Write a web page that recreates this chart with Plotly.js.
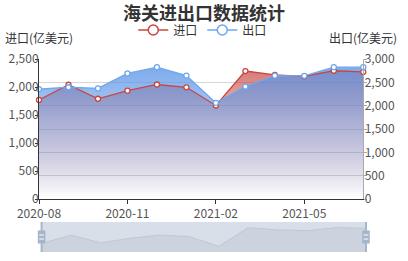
<!DOCTYPE html>
<html>
<head>
<meta charset="utf-8">
<script src="https://cdn.plot.ly/plotly-3.0.1.min.js"></script>
<style>html,body{margin:0;padding:0;background:#fff;}#chart{width:408px;height:261px;}</style>
</head>
<body>
<div id="chart"></div>
<script>
// ---- data ----
var months = ['2020-08','2020-09','2020-10','2020-11','2020-12','2021-01','2021-02','2021-03','2021-04','2021-05','2021-06','2021-07'];
var importVals = [1770, 2040, 1790, 1935, 2045, 1995, 1670, 2285, 2215, 2190, 2290, 2270];
var exportVals = [2355, 2395, 2370, 2690, 2825, 2645, 2060, 2410, 2645, 2640, 2825, 2825];
var xTickVals = ['2020-08','2020-11','2021-02','2021-05'];
var seriesNames = ['进口','出口'];
var titleText = '海关进出口数据统计';
var leftAxisName = '进口(亿美元)';
var rightAxisName = '出口(亿美元)';

// ---- styles ----
var FONT = '"Noto Sans CJK SC", "Noto Sans", sans-serif';
var RED = '#c9463f';
var BLUE = '#6fa6ee';
var HANDLE = 'rgb(165,181,203)';

var mn = Math.min.apply(null, importVals), mx = Math.max.apply(null, importVals);
var pad = (mx - mn) * 0.3;

function legendProxy(name, color, yaxis) {
  return { x: [months[0]], y: [null], xaxis: 'x', yaxis: yaxis, name: name, mode: 'lines+markers',
    line: { color: color, width: 1.3 },
    marker: { symbol: 'circle', size: 10, color: '#fff', line: { color: color, width: 1.5 } }, hoverinfo: 'skip' };
}

var traces = [
  { x: months, y: importVals, xaxis: 'x', yaxis: 'y', mode: 'none', fill: 'tozeroy',
    fillgradient: { type: 'vertical', colorscale: [[0, 'rgba(195,55,50,0)'], [0.6, 'rgba(195,55,50,0.28)'], [1, 'rgba(195,55,50,0.66)']] },
    showlegend: false, hoverinfo: 'skip' },
  { x: months, y: exportVals, xaxis: 'x', yaxis: 'y2', mode: 'none', fill: 'tozeroy',
    fillgradient: { type: 'vertical', colorscale: [[0, 'rgba(92,150,232,0)'], [1, 'rgba(92,150,232,0.8)']] },
    showlegend: false, hoverinfo: 'skip' },
  { x: months, y: importVals, xaxis: 'x', yaxis: 'y3', name: seriesNames[0], mode: 'lines+markers',
    line: { color: RED, width: 1.3 }, cliponaxis: false, showlegend: false,
    marker: { symbol: 'circle', size: 5, color: '#fff', line: { color: RED, width: 1.3 } } },
  { x: months, y: exportVals, xaxis: 'x', yaxis: 'y4', name: seriesNames[1], mode: 'lines+markers',
    line: { color: BLUE, width: 1.3 }, cliponaxis: false, showlegend: false,
    marker: { symbol: 'circle', size: 5, color: '#fff', line: { color: BLUE, width: 1.3 } } },
  legendProxy(seriesNames[0], RED, 'y3'),
  legendProxy(seriesNames[1], BLUE, 'y4'),
  { x: months, y: importVals, xaxis: 'x2', yaxis: 'y5', mode: 'lines', fill: 'tozeroy',
    line: { color: 'rgb(190,199,212)', width: 1 }, fillcolor: 'rgb(204,211,222)',
    showlegend: false, hoverinfo: 'skip' }
];

var W = 327, H = 193;
var tickFont = { family: FONT, size: 12, color: '#555' };

var layout = {
  width: 408, height: 261,
  margin: { l: 39, r: 42, t: 59, b: 9 },
  paper_bgcolor: '#fff', plot_bgcolor: 'rgba(0,0,0,0)',
  hovermode: false,
  font: { family: FONT, size: 12, color: '#333' },
  title: { text: '<b>' + titleText + '</b>', font: { family: FONT, size: 18, color: '#333' },
    xref: 'container', x: 0.5, xanchor: 'center', yref: 'container', y: 1 - 14 / 261, yanchor: 'middle' },
  showlegend: true,
  legend: { orientation: 'h', xref: 'container', x: 0.497, xanchor: 'center', yref: 'container', y: 1 - 30 / 261, yanchor: 'middle',
    font: { family: FONT, size: 12, color: '#333' }, bgcolor: 'rgba(0,0,0,0)', itemwidth: 30, traceorder: 'normal' },
  xaxis: { domain: [0, 324.3 / W], type: 'category', range: [0, months.length - 1], anchor: 'y',
    tickmode: 'array', tickvals: xTickVals, ticktext: xTickVals,
    showline: true, linecolor: '#333', linewidth: 1, ticks: 'outside', ticklen: 4, tickcolor: '#333',
    showgrid: false, zeroline: false, tickfont: tickFont, fixedrange: true },
  yaxis: { domain: [53 / H, 1], range: [0, 2500], dtick: 500, tick0: 0, tickformat: ',', anchor: 'x',
    showline: true, linecolor: '#333', linewidth: 1, ticks: 'outside', ticklen: 3, tickcolor: '#333',
    ticklabelstandoff: -6,
    showgrid: false, zeroline: false, tickfont: tickFont, fixedrange: true },
  yaxis2: { overlaying: 'y', side: 'right', anchor: 'x', range: [0, 3000], dtick: 500, tick0: 0, tickformat: ',',
    showline: true, linecolor: '#aaa', linewidth: 1, ticks: 'outside', ticklen: 3, tickcolor: '#aaa',
    ticklabelstandoff: -5,
    showgrid: true, gridcolor: '#d6d6d6', gridwidth: 1, zeroline: false, tickfont: tickFont, fixedrange: true },
  yaxis3: { overlaying: 'y', anchor: 'x', range: [0, 2500], visible: false, fixedrange: true },
  yaxis4: { overlaying: 'y', anchor: 'x', range: [0, 3000], visible: false, fixedrange: true },
  xaxis2: { domain: [2.6 / W, 1], anchor: 'y5', type: 'category', range: [0, months.length - 1], visible: false, fixedrange: true },
  yaxis5: { domain: [0, 30 / H], anchor: 'x2', range: [mn - pad, mx + pad], visible: false, fixedrange: true },
  shapes: [
    { type: 'rect', layer: 'below', xref: 'x2 domain', yref: 'y5 domain', x0: 0, x1: 1, y0: 0, y1: 1,
      fillcolor: 'rgb(217,223,233)', line: { width: 0 } },
    { type: 'line', xref: 'x2 domain', yref: 'y5 domain', x0: 0, x1: 0, y0: 0, y1: 1, line: { color: HANDLE, width: 2 } },
    { type: 'line', xref: 'x2 domain', yref: 'y5 domain', x0: 1, x1: 1, y0: 0, y1: 1, line: { color: HANDLE, width: 2 } },
    { type: 'rect', xref: 'x2 domain', yref: 'y5 domain', xsizemode: 'pixel', xanchor: 0, x0: -3.8, x1: 3.8,
      ysizemode: 'pixel', yanchor: 0.5, y0: -6.5, y1: 6.5, fillcolor: HANDLE, line: { width: 0 } },
    { type: 'rect', xref: 'x2 domain', yref: 'y5 domain', xsizemode: 'pixel', xanchor: 1, x0: -3.8, x1: 3.8,
      ysizemode: 'pixel', yanchor: 0.5, y0: -6.5, y1: 6.5, fillcolor: HANDLE, line: { width: 0 } },
    { type: 'line', xref: 'x2 domain', yref: 'y5 domain', xsizemode: 'pixel', xanchor: 0, x0: -2.3, x1: 2.3,
      ysizemode: 'pixel', yanchor: 0.5, y0: 2, y1: 2, line: { color: '#fff', width: 1 } },
    { type: 'line', xref: 'x2 domain', yref: 'y5 domain', xsizemode: 'pixel', xanchor: 0, x0: -2.3, x1: 2.3,
      ysizemode: 'pixel', yanchor: 0.5, y0: -2, y1: -2, line: { color: '#fff', width: 1 } },
    { type: 'line', xref: 'x2 domain', yref: 'y5 domain', xsizemode: 'pixel', xanchor: 1, x0: -2.3, x1: 2.3,
      ysizemode: 'pixel', yanchor: 0.5, y0: 2, y1: 2, line: { color: '#fff', width: 1 } },
    { type: 'line', xref: 'x2 domain', yref: 'y5 domain', xsizemode: 'pixel', xanchor: 1, x0: -2.3, x1: 2.3,
      ysizemode: 'pixel', yanchor: 0.5, y0: -2, y1: -2, line: { color: '#fff', width: 1 } }
  ],
  annotations: [
    { text: leftAxisName, xref: 'paper', x: 0, xanchor: 'center', yref: 'paper', y: (252 - 37) / H, yanchor: 'middle',
      showarrow: false, font: { family: FONT, size: 12, color: '#333' } },
    { text: rightAxisName, xref: 'paper', x: 324.3 / W, xanchor: 'center', yref: 'paper', y: (252 - 37) / H, yanchor: 'middle',
      showarrow: false, font: { family: FONT, size: 12, color: '#333' } }
  ]
};

Plotly.newPlot('chart', traces, layout, { displayModeBar: false, staticPlot: true });
</script>
</body>
</html>
